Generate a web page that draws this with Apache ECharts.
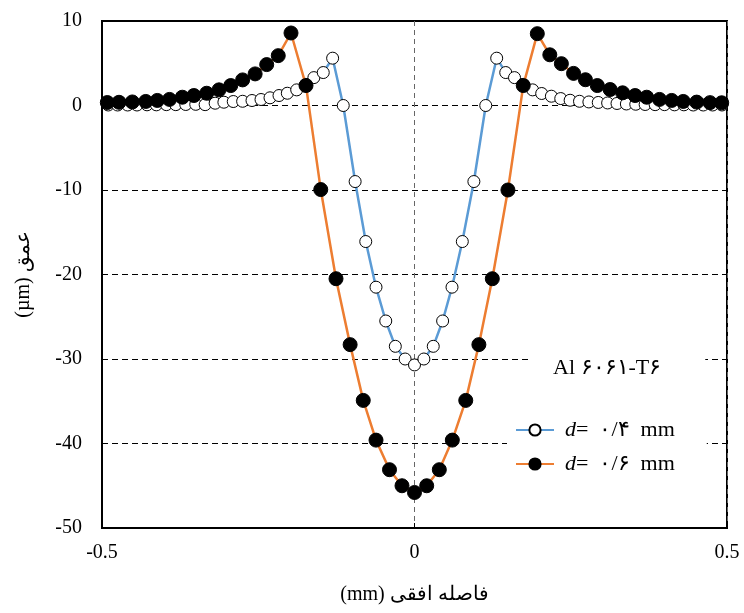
<!DOCTYPE html>
<html><head><meta charset="utf-8">
<script src="https://cdn.jsdelivr.net/npm/echarts@6/dist/echarts.min.js"></script>
<style>html,body{margin:0;padding:0;background:#fff}#c{width:744px;height:613px}</style>
</head><body><div id="c"></div>
<script>
// d = 0.4 mm (open circles)
const xOpen = [-0.490,-0.475,-0.459,-0.444,-0.428,-0.413,-0.397,-0.382,-0.366,-0.350,-0.335,-0.319,-0.305,-0.290,-0.275,-0.260,-0.2456,-0.2312,-0.2168,-0.2035,-0.1885,-0.174,-0.161,-0.146,-0.131,-0.114,-0.095,-0.078,-0.0616,-0.046,-0.0307,-0.015,
  0, 0.015,0.030,0.045,0.060,0.0765,0.095,0.114,0.1315,0.146,0.160,0.174,0.189,0.2035,0.219,0.234,0.249,0.264,0.279,0.294,0.309,0.324,0.339,0.354,0.369,0.385,0.400,0.416,0.431,0.446,0.462,0.477,0.492];
const yOpen = [0.06,0.06,0.06,0.06,0.08,0.08,0.1,0.1,0.12,0.14,0.1,0.27,0.39,0.47,0.5,0.59,0.71,0.91,1.18,1.45,1.85,2.5,3.3,3.9,5.6,0,-9.0,-16.1,-21.5,-25.5,-28.5,-30.0,
  -30.7, -30.0,-28.5,-25.5,-21.5,-16.1,-9.0,0,5.6,3.9,3.3,2.5,1.85,1.42,1.1,0.82,0.62,0.5,0.42,0.36,0.3,0.24,0.18,0.15,0.12,0.1,0.1,0.08,0.08,0.06,0.06,0.06,0.06];
// d = 0.6 mm (filled circles)
const xFilled = [-0.4915,-0.4728,-0.4515,-0.430,-0.4115,-0.392,-0.3715,-0.353,-0.3325,-0.3128,-0.294,-0.275,-0.255,-0.2365,-0.218,-0.1976,-0.1736,-0.150,-0.1256,-0.103,-0.082,-0.0616,-0.040,-0.020,
  0, 0.0195,0.0397,0.0605,0.082,0.103,0.1245,0.1495,0.174,0.1965,0.2165,0.235,0.2545,0.2735,0.2925,0.313,0.333,0.353,0.3715,0.392,0.4115,0.430,0.4515,0.4728,0.4915];
const yFilled = [0.35,0.38,0.42,0.48,0.6,0.72,0.98,1.18,1.45,1.85,2.36,3.03,3.74,4.84,5.9,8.58,2.36,-9.95,-20.5,-28.3,-34.9,-39.6,-43.1,-45.0,
  -45.8, -45.0,-43.1,-39.6,-34.9,-28.3,-20.5,-10.0,2.36,8.5,6.0,4.95,3.8,3.05,2.36,1.89,1.5,1.18,0.98,0.72,0.6,0.48,0.4,0.34,0.32];
const seriesNames = ['d04', 'd06'];
const legendTexts = {d04: '=  ۰/۴  mm', d06: '=  ۰/۶  mm'};
const materialLabel = 'Al ۶۰۶۱-T۶';
const xName = '(mm) فاصله افقی';
const yName = '(µm) عمق';

const serif = '"Liberation Serif", "Times New Roman", serif';
const zip = (xs, ys) => xs.map((x, i) => [x, ys[i]]);

const chart = echarts.init(document.getElementById('c'), null, {renderer: 'canvas'});
chart.setOption({
  animation: false,
  backgroundColor: '#fff',
  grid: {left: 102, right: 17, top: 21, bottom: 85, show: true, borderColor: '#000', borderWidth: 2},
  xAxis: {
    type: 'value', min: -0.5, max: 0.5, interval: 0.5,
    name: xName, nameLocation: 'middle', nameGap: 57,
    nameTextStyle: {fontFamily: serif, fontSize: 20, color: '#000'},
    axisLine: {show: true, onZero: false, lineStyle: {color: '#000', width: 2}},
    axisTick: {show: true, inside: true, length: 5, lineStyle: {color: '#000'}},
    axisLabel: {fontFamily: serif, fontSize: 20, color: '#000', margin: 15},
    splitLine: {show: true, lineStyle: {color: '#666', type: [5, 4], width: 1}}
  },
  yAxis: {
    type: 'value', min: -50, max: 10, interval: 10,
    name: yName, nameLocation: 'middle', nameGap: 68,
    nameTextStyle: {fontFamily: serif, fontSize: 20, color: '#000'},
    axisLine: {show: true, onZero: false, lineStyle: {color: '#000', width: 2}},
    axisTick: {show: false},
    axisLabel: {fontFamily: serif, fontSize: 20, color: '#000', margin: 20},
    splitLine: {show: true, lineStyle: {color: '#000', type: [6, 4], width: 1}}
  },
  legend: {
    orient: 'vertical', left: 507, top: 404,
    data: seriesNames,
    backgroundColor: '#fff', padding: [15, 32, 13, 8],
    itemWidth: 38, itemHeight: 14, itemGap: 12,
    formatter: n => '{i|d}{n|' + legendTexts[n] + '}',
    textStyle: {
      color: '#000', fontFamily: serif, fontSize: 22, padding: [0, 0, 0, 6],
      rich: {
        i: {fontStyle: 'italic', fontFamily: serif, fontSize: 22, color: '#000'},
        n: {fontFamily: serif, fontSize: 22, color: '#000'}
      }
    }
  },
  graphic: [{
    type: 'text', z: 100, left: 532, top: 346,
    style: {
      text: materialLabel, font: '22px ' + serif, fill: '#000',
      backgroundColor: '#fff', padding: [11, 44, 12, 21]
    }
  }],
  series: [
    {
      name: seriesNames[0], type: 'line', data: zip(xOpen, yOpen),
      symbol: 'circle', symbolSize: 12, showAllSymbol: true,
      lineStyle: {color: '#5B9BD5', width: 2.5},
      itemStyle: {color: '#fff', borderColor: '#000', borderWidth: 1},
      z: 2
    },
    {
      name: seriesNames[1], type: 'line', data: zip(xFilled, yFilled),
      symbol: 'circle', symbolSize: 14, showAllSymbol: true,
      lineStyle: {color: '#ED7D31', width: 2.5},
      itemStyle: {color: '#000', borderColor: '#000', borderWidth: 1},
      z: 3
    }
  ]
});
</script></body></html>
